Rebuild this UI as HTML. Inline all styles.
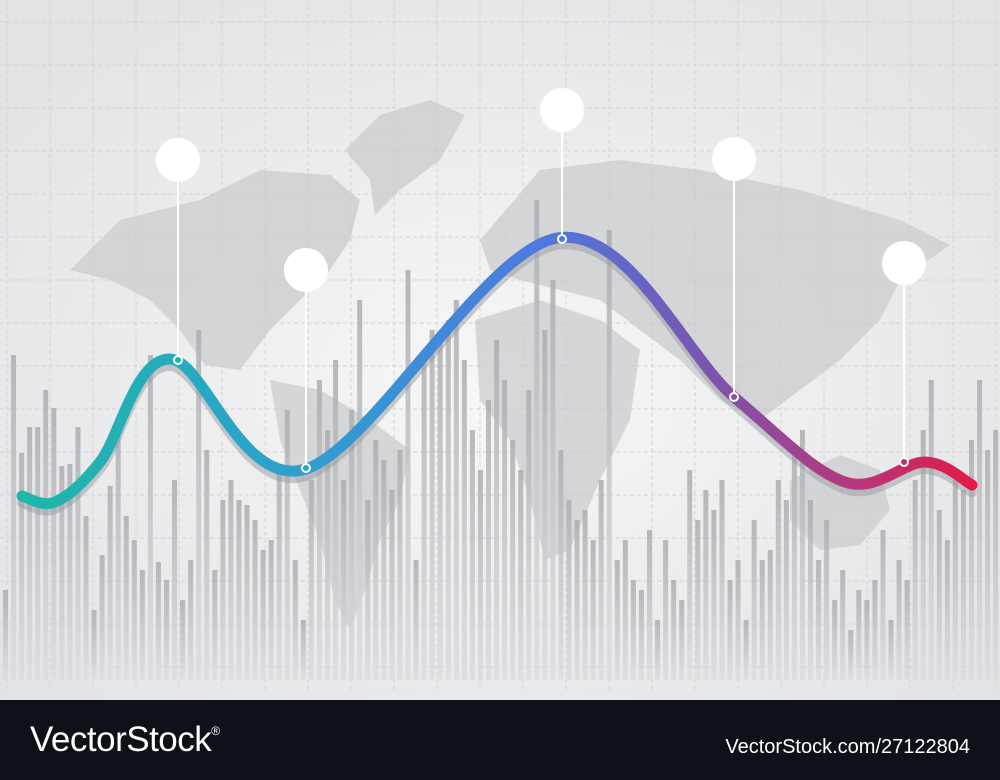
<!DOCTYPE html>
<html><head><meta charset="utf-8">
<style>
html,body{margin:0;padding:0;}
body{width:1000px;height:780px;overflow:hidden;font-family:"Liberation Sans",sans-serif;}
#wrap{position:relative;width:1000px;height:780px;}
#footer{position:absolute;left:0;top:700px;width:1000px;height:80px;background:#0e1118;color:#fff;}
#logo{position:absolute;left:30px;top:20px;font-size:35px;letter-spacing:-0.5px;}
#logo sup{font-size:12px;vertical-align:top;position:relative;top:4px;}
#url{position:absolute;right:30px;top:36px;font-size:20px;}
</style></head><body>
<div id="wrap">
<svg id="chart" width="1000" height="700">
<defs>
<radialGradient id="bg" cx="0.5" cy="0.55" r="0.65">
<stop offset="0" stop-color="#f7f7f7"/><stop offset="1" stop-color="#e2e3e5"/>
</radialGradient>
<linearGradient id="barg" x1="0" y1="0" x2="0" y2="1">
<stop offset="0" stop-color="#acadb0"/><stop offset="1" stop-color="#dcdde0"/>
</linearGradient>
<linearGradient id="lineg" x1="20" y1="0" x2="975" y2="0" gradientUnits="userSpaceOnUse">
<stop offset="0" stop-color="#1db8a8"/><stop offset="0.3" stop-color="#2f9fd0"/>
<stop offset="0.55" stop-color="#4f78de"/><stop offset="0.72" stop-color="#7a55b0"/>
<stop offset="0.86" stop-color="#b13a80"/><stop offset="1" stop-color="#e21a46"/>
</linearGradient>
</defs>
<rect width="1000" height="700" fill="url(#bg)"/>
<g id="grid"></g>
<g id="map" fill="#c9cacc" opacity="0.7">
<path d="M70,270 L120,220 L200,200 L260,170 L330,175 L360,200 L350,240 L330,270 L300,300 L270,330 L240,370 L205,365 L180,330 L150,300 L110,280 Z"/>
<path d="M345,150 L380,115 L430,100 L465,115 L440,160 L400,190 L375,215 L370,180 Z"/>
<path d="M270,380 L320,390 L370,420 L410,450 L400,500 L380,540 L365,590 L350,630 L335,600 L320,540 L300,490 L280,440 Z"/>
<path d="M480,240 L540,170 L620,160 L700,170 L800,190 L900,220 L950,245 L900,280 L880,320 L840,360 L800,390 L760,420 L720,400 L680,360 L640,330 L600,300 L560,290 L520,280 L490,270 Z"/>
<path d="M475,320 L540,300 L600,320 L640,350 L630,420 L600,480 L570,550 L545,560 L530,500 L510,440 L480,400 Z"/>
<path d="M790,480 L840,455 L880,470 L890,510 L860,545 L820,550 L790,520 Z"/>
</g>
<g id="bars"></g>
<g id="curve"></g>
<g id="markers"></g>
</svg>
<div id="footer">
<div id="logo">VectorStock<sup>®</sup></div>
<div id="url">VectorStock.com/27122804</div>
</div>
</div>
<script>
// bar heights (px above baseline), one per slot
const barHeights = [90,325,227,253,253,290,272,214,216,253,164,70,125,194,260,164,140,110,325,118,100,200,80,120,350,230,110,180,200,180,175,160,130,140,210,270,120,60,200,300,250,320,200,270,380,180,240,220,190,230,410,120,330,350,340,360,380,320,250,210,280,340,300,240,210,290,480,350,400,230,180,160,170,140,200,450,120,140,100,90,150,60,140,100,80,210,160,190,170,200,100,120,60,160,120,130,200,180,230,250,180,120,160,80,110,50,90,80,100,150,60,120,100,200,250,300,170,140,200,190,240,300,230,250,160];
const curveX = [22,55,100,170,306,557,734,845,925,972];
const curveY = [496,502,462,359,469,238,397,482,462,485];
const markerX = [178,306,562,734,904];
const markerPointY = [360,468,239,397,462];
const markerTopY = [160,270,110,159,263];
const NS='http://www.w3.org/2000/svg';
const baseY=680, bx=(i)=>3+i*8.05;
function mk(t,a){const e=document.createElementNS(NS,t);for(const k in a)e.setAttribute(k,a[k]);return e;}
const grid=document.getElementById('grid');
for(let x=7;x<1000;x+=43){const l=mk('line',{x1:x,y1:0,x2:x,y2:690,stroke:'#d3d4d7','stroke-width':1,'stroke-dasharray':'4 3'});

grid.appendChild(l);}
for(let y=22;y<690;y+=43){const l=mk('line',{x1:0,y1:y,x2:1000,y2:y,stroke:'#d3d4d7','stroke-width':1,'stroke-dasharray':'4 3'});

grid.appendChild(l);}
const bars=document.getElementById('bars');
barHeights.forEach((h,i)=>{const r=mk('rect',{x:bx(i),y:baseY-h,width:5,height:h,fill:'url(#barg)',opacity:0.85});

bars.appendChild(r);});
function path(xs,ys,dy){let d=`M${xs[0]},${ys[0]+dy}`;for(let i=0;i<xs.length-1;i++){const p0=i?i-1:0,p3=Math.min(i+2,xs.length-1);
const c1x=xs[i]+(xs[i+1]-xs[p0])/6,c1y=ys[i]+(ys[i+1]-ys[p0])/6+dy,c2x=xs[i+1]-(xs[p3]-xs[i])/6,c2y=ys[i+1]-(ys[p3]-ys[i])/6+dy;
d+=` C${c1x},${c1y} ${c2x},${c2y} ${xs[i+1]},${ys[i+1]+dy}`;}return d;}
const cg=document.getElementById('curve');
const sh=mk('path',{d:path(curveX,curveY,7),fill:'none',stroke:'#9a9ba0','stroke-width':10,'stroke-linecap':'round',opacity:0.5});

cg.appendChild(sh);
const ln=mk('path',{d:path(curveX,curveY,0),fill:'none',stroke:'url(#lineg)','stroke-width':11,'stroke-linecap':'round'});

cg.appendChild(ln);
const mg=document.getElementById('markers');
const cols=['#1fb3ab','#2ea3cc','#4d7ade','#7b55b0','#c42e62'];
markerX.forEach((x,j)=>{const y=markerPointY[j],ty=markerTopY[j];
const l=mk('line',{x1:x,y1:ty,x2:x,y2:y,stroke:'#fff','stroke-width':2});

mg.appendChild(l);
const c=mk('circle',{cx:x,cy:ty,r:22,fill:'#fff'});

mg.appendChild(c);
const d=mk('circle',{cx:x,cy:y,r:4,fill:cols[j],stroke:'#fff','stroke-width':2});

mg.appendChild(d);});
</script>
</body></html>
